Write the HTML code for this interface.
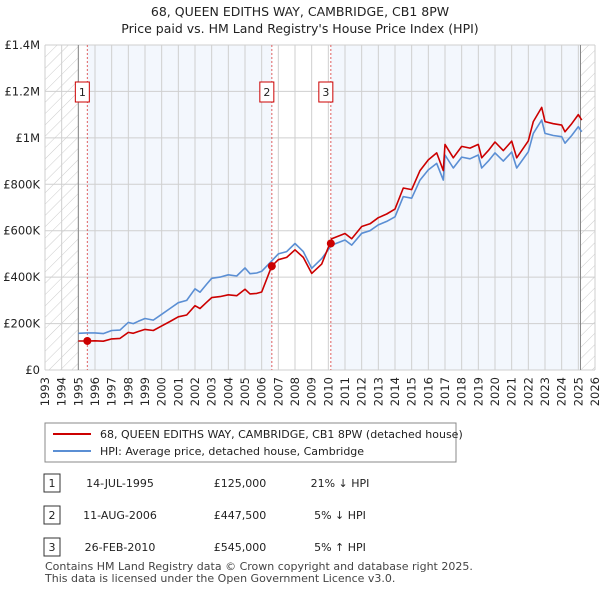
<!DOCTYPE html>
<html><head><meta charset="utf-8"><style>
body{margin:0;background:#fff;font-family:"Liberation Sans","DejaVu Sans",sans-serif;}
svg text{font-family:"DejaVu Sans","Liberation Sans",sans-serif;}
</style></head><body>
<svg id="chart" width="600" height="590" xmlns="http://www.w3.org/2000/svg">
<defs><pattern id="hatch" patternUnits="userSpaceOnUse" width="8" height="8" patternTransform="rotate(45)"><line x1="0" y1="0" x2="0" y2="8" stroke="#ccc" stroke-width="1"/></pattern></defs>
<text x="300" y="16" text-anchor="middle" font-size="12.5" fill="#222">68, QUEEN EDITHS WAY, CAMBRIDGE, CB1 8PW</text>
<text x="300" y="33" text-anchor="middle" font-size="12.5" fill="#222">Price paid vs. HM Land Registry's House Price Index (HPI)</text>
<g id="plot"></g>
<g>
<rect x="45" y="423" width="411" height="39" fill="#fff" stroke="#888"/>
<line x1="53" y1="434" x2="91" y2="434" stroke="#cc0000" stroke-width="2"/>
<text x="100" y="438" font-size="11" fill="#222">68, QUEEN EDITHS WAY, CAMBRIDGE, CB1 8PW (detached house)</text>
<line x1="53" y1="451" x2="91" y2="451" stroke="#5b8fd4" stroke-width="2"/>
<text x="100" y="455" font-size="11" fill="#222">HPI: Average price, detached house, Cambridge</text>
</g>
<g font-size="11" fill="#222">
<rect x="44" y="474" width="16" height="18" fill="#fff" stroke="#333"/><text x="52" y="487" text-anchor="middle">1</text>
<text x="120" y="487" text-anchor="middle">14-JUL-1995</text><text x="240" y="487" text-anchor="middle">£125,000</text><text x="340" y="487" text-anchor="middle">21% ↓ HPI</text>
<rect x="44" y="506" width="16" height="18" fill="#fff" stroke="#333"/><text x="52" y="519" text-anchor="middle">2</text>
<text x="120" y="519" text-anchor="middle">11-AUG-2006</text><text x="240" y="519" text-anchor="middle">£447,500</text><text x="340" y="519" text-anchor="middle">5% ↓ HPI</text>
<rect x="44" y="538" width="16" height="18" fill="#fff" stroke="#333"/><text x="52" y="551" text-anchor="middle">3</text>
<text x="120" y="551" text-anchor="middle">26-FEB-2010</text><text x="240" y="551" text-anchor="middle">£545,000</text><text x="340" y="551" text-anchor="middle">5% ↑ HPI</text>
</g>
<text x="45" y="570" font-size="11" fill="#444">Contains HM Land Registry data © Crown copyright and database right 2025.</text>
<text x="45" y="582" font-size="11" fill="#444">This data is licensed under the Open Government Licence v3.0.</text>
</svg>
<script>
const years=[1995.0,1995.5,1996,1996.5,1997,1997.5,1998,1998.3,1998.6,1999,1999.5,2000,2000.5,2001,2001.5,2002,2002.3,2002.7,2003,2003.5,2004,2004.5,2005,2005.3,2005.7,2006,2006.6,2007,2007.5,2008,2008.5,2009,2009.6,2010.2,2011,2011.4,2012,2012.5,2013,2013.5,2014,2014.5,2015,2015.5,2016,2016.5,2016.9,2017,2017.5,2018,2018.5,2019,2019.2,2019.6,2020,2020.5,2021,2021.3,2022,2022.3,2022.8,2023,2023.5,2024,2024.2,2024.6,2025,2025.2];
const hpiValues=[158,160,160,157,170,172,205,200,210,222,215,240,265,290,300,350,335,370,395,400,410,405,440,415,418,425,470,500,510,545,510,438,480,538,560,538,589,600,625,640,660,747,740,818,862,890,818,926,870,917,910,926,870,900,935,900,939,870,940,1019,1077,1019,1010,1005,977,1010,1048,1026];
const propertyValues=[125,125,126,124,134,136,162,158,166,175,170,190,209,229,237,277,265,292,312,316,324,320,348,328,330,336,447,475,485,518,485,416,456,565,588,565,618,630,656,672,693,784,777,859,905,935,859,972,914,963,956,972,914,945,982,945,986,914,987,1070,1131,1070,1061,1055,1026,1061,1100,1077];
const saleYears=[1995.54,2006.61,2010.15];
const salePrices=[125,447.5,545];
const saleLabels=["1","2","3"];
const yTicks=[0,200,400,600,800,1000,1200,1400];
const yTickLabels=["£0","£200K","£400K","£600K","£800K","£1M","£1.2M","£1.4M"];
const xStart=1993,xEnd=2026,dataEnd=2025.13;
const L=45,R=595,T=45,B=370;
const X=y=>L+(y-xStart)/(xEnd-xStart)*(R-L);
const Y=v=>B-v/1400*(B-T);
const NS="http://www.w3.org/2000/svg";
const g=document.getElementById('plot');
function el(tag,attrs,parent){const e=document.createElementNS(NS,tag);for(const k in attrs)e.setAttribute(k,attrs[k]);(parent||g).appendChild(e);return e;}
let r;
r=el('rect',{x:L,y:T,width:R-L,height:B-T,fill:'#fff'});


r=el('rect',{x:X(saleYears[0]),y:T,width:X(saleYears[1])-X(saleYears[0]),height:B-T,fill:'#eef3fc',opacity:0.7});


r=el('rect',{x:X(saleYears[2]),y:T,width:X(dataEnd)-X(saleYears[2]),height:B-T,fill:'#eef3fc',opacity:0.7});


r=el('rect',{x:L,y:T,width:X(1995)-L,height:B-T,fill:'url(#hatch)'});


r=el('rect',{x:X(dataEnd),y:T,width:R-X(dataEnd),height:B-T,fill:'url(#hatch)'});


for(let yr=xStart;yr<=xEnd;yr++){
  const l=el('line',{x1:X(yr),x2:X(yr),y1:T,y2:B,stroke:'#cfcfcf','stroke-width':1});
  
  
  const t=el('text',{x:0,y:0,'font-size':11.5,fill:'#222','text-anchor':'end',transform:`translate(${X(yr)+4},${B+7}) rotate(-90)`});
  t.textContent=yr;
  
  
}
yTicks.forEach((v,i)=>{
  const l=el('line',{x1:L,x2:R,y1:Y(v),y2:Y(v),stroke:'#cfcfcf','stroke-width':1});
  
  
  const t=el('text',{x:L-5,y:Y(v)+4,'font-size':11.5,fill:'#222','text-anchor':'end'});
  t.textContent=yTickLabels[i];
  
  
});
[1995,dataEnd].forEach(yr=>{
  const l=el('line',{x1:X(yr),x2:X(yr),y1:T,y2:B,stroke:'#888','stroke-width':1});
  
  
});
saleYears.forEach((yr,i)=>{
  const l=el('line',{x1:X(yr),x2:X(yr),y1:T,y2:B,stroke:'#e06060','stroke-width':1,'stroke-dasharray':'2,2'});
  
  
});
const line=(vals,color,name)=>{
  const p=el('polyline',{points:years.map((y,i)=>X(y).toFixed(1)+','+Y(vals[i]).toFixed(1)).join(' '),fill:'none',stroke:color,'stroke-width':1.6,'stroke-linejoin':'round'});
  
  
};
line(hpiValues,'#5b8fd4','hpi-line');
line(propertyValues,'#cc0000','property-price-line');
saleYears.forEach((yr,i)=>{
  const c=el('circle',{cx:X(yr),cy:Y(salePrices[i]),r:4,fill:'#cc0000'});
  
  
  const b=el('rect',{x:X(yr)-12,y:82,width:14,height:20,fill:'#fff',stroke:'#cc0000','stroke-width':1});
  
  
  const t=el('text',{x:X(yr)-5,y:96,'font-size':11,fill:'#222','text-anchor':'middle'});
  t.textContent=saleLabels[i];
  
  
});
</script>
</body></html>
